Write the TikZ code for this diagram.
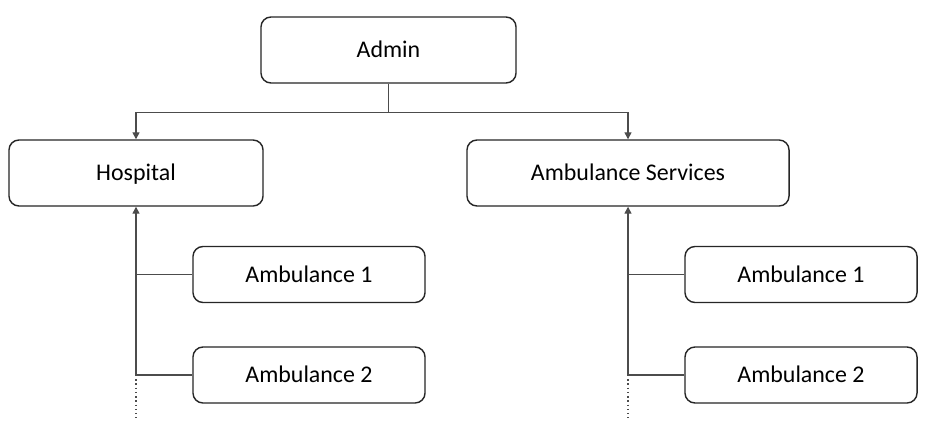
\documentclass[tikz,border=0pt]{standalone}
\usepackage{fontspec}
\setmainfont{Carlito}
\usetikzlibrary{arrows.meta,calc}
\tikzset{
  box/.style={draw=black!85, line width=1pt, rounded corners=0.25cm, fill=white,
    font=\fontsize{17}{20}\selectfont, inner sep=0pt, minimum height=1.65cm,
    text height=10.7pt, text depth=0pt},
  subbox/.style={box, minimum width=5.8cm, minimum height=1.4cm},
  conn/.style={draw=black!70, line width=1pt},
  tip/.style={-{Triangle[length=5pt,width=5pt]}}
}
\begin{document}
\begin{tikzpicture}[x=0.025cm, y=-0.025cm]
		%%%%% START %%%%%
		\useasboundingbox (0, 0) rectangle (931, 440);
		
		\node[box, minimum width=6.375cm] (admin) at (388.5, 50) {Admin};
		\node[box, minimum width=6.35cm] (hosp) at (136, 173) {Hospital};
		\node[box, minimum width=8.05cm] (serv) at (628, 173) {Ambulance Services};
		
		\node[subbox] (hamb1) at (309, 274.5) {Ambulance 1};
		\node[subbox] (hamb2) at (309, 375) {Ambulance 2};
		\node[subbox] (samb1) at (801, 274.5) {Ambulance 1};
		\node[subbox] (samb2) at (801, 375) {Ambulance 2};
		
		% admin to both sides
		\coordinate (split) at ($(admin.south)+(0, 29)$);
		\draw[conn, tip] (admin.south) -- (split) -| (hosp.north);
		\draw[conn, tip] (split) -| (serv.north);
		
		% hospital side
		\draw[conn, tip] (hamb2.west) -| (hosp.south);
		\draw[conn] (hamb1.west) -- (hamb1.west -| hosp.south);
		\coordinate (hdot) at (136, 418);
		\draw[conn, dotted] (hamb2.west -| hosp.south) -- (hdot);
		
		% services side
		\draw[conn, tip] (samb2.west) -| (serv.south);
		\draw[conn] (samb1.west) -- (samb1.west -| serv.south);
		\coordinate (sdot) at (628, 418);
		\draw[conn, dotted] (samb2.west -| serv.south) -- (sdot);
		%%%%% END %%%%%
\end{tikzpicture}
\end{document}
